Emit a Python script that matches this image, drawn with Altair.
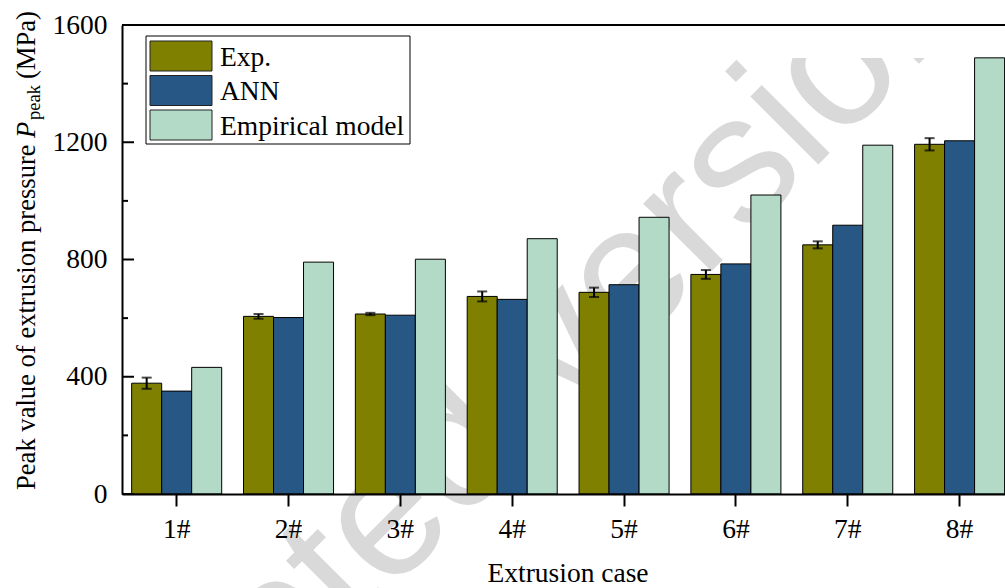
import altair as alt
import pandas as pd

# ---- data -------------------------------------------------------------
cases = ["1#", "2#", "3#", "4#", "5#", "6#", "7#", "8#"]
series = ["Exp.", "ANN", "Empirical model"]
exp_values = [378, 606, 614, 674, 688, 749, 850, 1193]
exp_errors = [19, 8, 4, 17, 16, 15, 12, 21]
ann_values = [351, 602, 610, 664, 714, 785, 917, 1205]
emp_values = [432, 791, 801, 871, 944, 1020, 1190, 1488]
colors = ["#808000", "#275785", "#b2dac6"]
y_major = [0, 400, 800, 1200, 1600]
y_minor = [200, 600, 1000, 1400]

FONT = "Liberation Serif"
FS = 27.5
TFS = 26.6
W, H = 883, 469

bars_df = pd.DataFrame({
    "case": cases * 3,
    "series": [s for s in series for _ in cases],
    "value": exp_values + ann_values + emp_values,
})
err_df = pd.DataFrame({
    "case": cases,
    "series": ["Exp."] * len(cases),
    "lo": [v - e for v, e in zip(exp_values, exp_errors)],
    "hi": [v + e for v, e in zip(exp_values, exp_errors)],
})
one = pd.DataFrame({"k": [0]})

# ---- shared encodings --------------------------------------------------
x_enc = alt.X(
    "case:N", sort=cases,
    scale=alt.Scale(domain=cases, paddingInner=0.195, paddingOuter=0.045,
                    align=0.96, round=False),
    axis=alt.Axis(title=None, labelFont=FONT, labelFontSize=FS,
                  labelColor="black", labelAngle=0, labelBaseline="alphabetic",
                  labelPadding=31, tickSize=12, tickWidth=2, tickColor="black",
                  domainColor="black", domainWidth=2, zindex=1),
)
xoff_enc = alt.XOffset("series:N", sort=series,
                       scale=alt.Scale(domain=series, paddingInner=0, paddingOuter=0))
y_scale = alt.Scale(domain=[0, 1600], nice=False, zero=True)
y_axis = alt.Axis(title=None, values=y_major, ticks=False, tickSize=0,
                  labelPadding=15, grid=False, domainColor="black",
                  domainWidth=2, labelFont=FONT, labelFontSize=FS,
                  labelColor="black", format="d", zindex=1)

# ---- background watermark text --------------------------------------------
watermark = alt.Chart(one).mark_text(
    text="Accepted version", angle=315, font="Liberation Sans", fontSize=182,
    color="#d9d9d9", align="center", baseline="middle",
).encode(x=alt.value(327), y=alt.value(431))

mask = alt.Chart(one).mark_rect(color="white").encode(
    x=alt.value(0), x2=alt.value(W), y=alt.value(-25), y2=alt.value(33))

# ---- bars and error bars -------------------------------------------------
bars = alt.Chart(bars_df).mark_bar(stroke="black", strokeWidth=1).encode(
    x=x_enc,
    xOffset=xoff_enc,
    y=alt.Y("value:Q", scale=y_scale, axis=y_axis),
    color=alt.Color("series:N", sort=series,
                    scale=alt.Scale(domain=series, range=colors), legend=None),
)

err_line = alt.Chart(err_df).mark_rule(color="black", strokeWidth=2).encode(
    x=alt.X("case:N", sort=cases),
    xOffset=alt.XOffset("series:N", sort=series),
    y="lo:Q", y2="hi:Q",
)
err_lo = alt.Chart(err_df).mark_tick(color="black", size=10, thickness=2).encode(
    x=alt.X("case:N", sort=cases),
    xOffset=alt.XOffset("series:N", sort=series),
    y="lo:Q",
)
err_hi = alt.Chart(err_df).mark_tick(color="black", size=10, thickness=2).encode(
    x=alt.X("case:N", sort=cases),
    xOffset=alt.XOffset("series:N", sort=series),
    y="hi:Q",
)

# ---- frame: top line and inward y ticks ------------------------------------
top_line = alt.Chart(one).mark_rule(color="black", strokeWidth=2).encode(
    y=alt.datum(1600))
major_ticks = alt.Chart(pd.DataFrame({"t": y_major})).mark_rule(
    color="black", strokeWidth=2).encode(
    y="t:Q", x=alt.value(0), x2=alt.value(12))
minor_ticks = alt.Chart(pd.DataFrame({"t": y_minor})).mark_rule(
    color="black", strokeWidth=2).encode(
    y="t:Q", x=alt.value(0), x2=alt.value(6))

# ---- legend ---------------------------------------------------------------
legend_layers = [
    alt.Chart(one).mark_rect(fill="white", stroke="black", strokeWidth=1).encode(
        x=alt.value(24), x2=alt.value(288), y=alt.value(11), y2=alt.value(119))
]
for i, (name, col) in enumerate(zip(series, colors)):
    top = 16 + 34.5 * i
    legend_layers.append(
        alt.Chart(one).mark_rect(fill=col, stroke="#222", strokeWidth=1).encode(
            x=alt.value(28), x2=alt.value(90), y=alt.value(top), y2=alt.value(top + 30)))
    legend_layers.append(
        alt.Chart(one).mark_text(text=name, font=FONT, fontSize=FS, color="black",
                                 align="left", baseline="alphabetic").encode(
            x=alt.value(98), y=alt.value(top + 24.5)))

# ---- axis titles ------------------------------------------------------------
# y title reads bottom-to-top; pieces are chained upward from the bottom
title_kw = dict(font=FONT, color="black", angle=270, baseline="alphabetic",
                align="left")
y_title = [
    alt.Chart(one).mark_text(text="Peak value of extrusion pressure",
                             fontSize=TFS, **title_kw).encode(
        x=alt.value(-87), y=alt.value(465)),
    alt.Chart(one).mark_text(text="P", fontSize=TFS, fontStyle="italic",
                             **title_kw).encode(
        x=alt.value(-87), y=alt.value(113)),
    alt.Chart(one).mark_text(text="peak", fontSize=18.5, **title_kw).encode(
        x=alt.value(-82), y=alt.value(95)),
    alt.Chart(one).mark_text(text="(MPa)", fontSize=TFS, **title_kw).encode(
        x=alt.value(-87), y=alt.value(54)),
]
x_title = alt.Chart(one).mark_text(
    text="Extrusion case", font=FONT, fontSize=FS, color="black",
    align="center", baseline="alphabetic").encode(x=alt.value(446), y=alt.value(557))

chart = alt.layer(
    watermark, mask, bars, err_line, err_lo, err_hi, top_line,
    major_ticks, minor_ticks, *legend_layers, *y_title, x_title,
).properties(
    width=W, height=H,
    padding={"left": 122, "top": 25, "right": 0, "bottom": 94},
    autosize=alt.AutoSizeParams(type="none"),
).configure_view(stroke=None).configure(background="white")

chart.save("out.html", embed_options={"renderer": "svg", "actions": False})
